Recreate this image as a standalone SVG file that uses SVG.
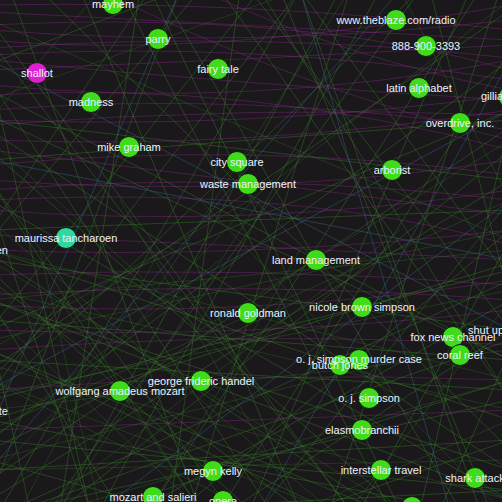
<svg xmlns="http://www.w3.org/2000/svg" width="502" height="502" viewBox="0 0 502 502">
<style>
.g{stroke:#3f8f30;stroke-opacity:.36;stroke-width:1;fill:none}
.h{stroke:#3a8a2c;stroke-opacity:.28;stroke-width:1;fill:none}
.m{stroke:#9a2c9a;stroke-opacity:.34;stroke-width:1;fill:none}
.b{stroke:#3d7396;stroke-opacity:.4;stroke-width:1;fill:none}
.nd{fill:#40dc1c;stroke:#10200a;stroke-width:1}
.mg{fill:#e020d0}
.tl{fill:#2ed8a0}
text{font-family:"Liberation Sans",Arial,sans-serif;font-size:11px;fill:#eef3ff;text-anchor:middle}
.st{text-anchor:start}
.en{text-anchor:end}
</style>
<rect width="502" height="502" fill="#1a181a"/>
<g id="connectors">
<path class="m" d="M-10,30 Q250,50 510,20"/>
<path class="m" d="M-10,55 Q250,40 510,80"/>
<path class="m" d="M-10,110 Q250,90 510,130"/>
<path class="m" d="M-10,140 Q250,150 510,110"/>
<path class="m" d="M-10,190 Q250,170 510,200"/>
<path class="m" d="M-10,210 Q250,230 510,190"/>
<path class="m" d="M-10,85 Q250,110 510,60"/>
<path class="m" d="M-10,250 Q250,260 510,230"/>
<path class="m" d="M-10,12 Q250,25 510,40"/>
<path class="m" d="M-10,165 Q250,140 510,175"/>
<path class="m" d="M-10,295 Q250,280 510,300"/>
<path class="m" d="M-10,120 Q250,130 510,95"/>
<path class="m" d="M-10,70 Q250,60 510,45"/>
<path class="m" d="M-10,330 Q250,340 510,310"/>
<path class="m" d="M-10,275 Q250,265 510,285"/>
<path class="m" d="M-10,95 Q250,80 510,150"/>
<path class="m" d="M100,-10 Q300,90 510,140"/>
<path class="m" d="M-10,40 Q200,60 510,5"/>
<path class="m" d="M-10,235 Q250,245 510,260"/>
<path class="m" d="M-10,430 Q250,420 510,410"/>
<path class="m" d="M-10,350 Q250,330 510,345"/>
<path class="m" d="M-10,180 Q250,200 510,160"/>
<path class="m" d="M-10,125 Q250,105 510,115"/>
<path class="m" d="M-10,25 Q300,10 510,70"/>
<path class="m" d="M-10,60 Q250,85 510,100"/>
<path class="m" d="M-10,305 Q250,320 510,280"/>
<path class="m" d="M200,-10 Q350,60 510,90"/>
<path class="m" d="M-10,150 Q200,175 510,215"/>
<path class="m" d="M-10,200 Q300,185 510,245"/>
<path class="m" d="M-10,5 Q250,0 510,30"/>
<path class="m" d="M-10,390 Q250,370 510,380"/>
<path class="m" d="M-10,48 Q260,30 510,58"/>
<path class="g" d="M-10,480 L520,120"/>
<path class="g" d="M-10,420 L520,260"/>
<path class="g" d="M0,510 L300,-10"/>
<path class="g" d="M50,510 L420,-10"/>
<path class="g" d="M120,510 L-10,300"/>
<path class="g" d="M200,510 L-10,180"/>
<path class="g" d="M260,510 L510,200"/>
<path class="g" d="M330,510 L-10,350"/>
<path class="g" d="M-10,300 L510,470"/>
<path class="g" d="M-10,360 L510,390"/>
<path class="g" d="M80,-10 L300,510"/>
<path class="g" d="M160,-10 L460,510"/>
<path class="g" d="M10,-10 L200,510"/>
<path class="g" d="M-10,200 L510,500"/>
<path class="g" d="M-10,150 L400,510"/>
<path class="g" d="M380,-10 L100,510"/>
<path class="g" d="M470,-10 L250,510"/>
<path class="g" d="M510,60 L-10,440"/>
<path class="g" d="M510,150 L60,510"/>
<path class="g" d="M510,300 L140,510"/>
<path class="g" d="M510,420 L-10,250"/>
<path class="g" d="M-10,260 L510,330"/>
<path class="g" d="M-10,470 L510,440"/>
<path class="g" d="M230,510 L510,330"/>
<path class="g" d="M0,380 L300,-10"/>
<path class="g" d="M-10,90 L510,360"/>
<path class="g" d="M-10,40 L350,510"/>
<path class="g" d="M300,-10 L510,280"/>
<path class="g" d="M420,510 L510,120"/>
<path class="g" d="M10,510 L510,280"/>
<path class="g" d="M-10,330 L260,-10"/>
<path class="g" d="M150,510 L480,-10"/>
<path class="g" d="M90,510 L-10,200"/>
<path class="g" d="M380,510 L0,260"/>
<path class="g" d="M460,510 L-10,420"/>
<path class="g" d="M510,470 L-10,130"/>
<path class="g" d="M200,-10 L-10,240"/>
<path class="g" d="M260,-10 L510,400"/>
<path class="g" d="M-10,520 L510,340"/>
<path class="g" d="M340,-10 L60,510"/>
<path class="g" d="M-10,230 L510,210"/>
<path class="g" d="M510,230 L180,510"/>
<path class="g" d="M40,-10 L510,450"/>
<path class="g" d="M510,360 L0,120"/>
<path class="g" d="M120,-10 L390,510"/>
<path class="g" d="M-10,400 L420,-10"/>
<path class="g" d="M270,510 L-10,80"/>
<path class="g" d="M360,510 L510,240"/>
<path class="g" d="M-10,180 L230,510"/>
<path class="g" d="M510,500 L-10,300"/>
<path class="g" d="M60,510 L140,-10"/>
<path class="g" d="M480,510 L300,-10"/>
<path class="g" d="M510,10 L-10,370"/>
<path class="g" d="M170,510 L-10,460"/>
<path class="g" d="M-10,440 L510,490"/>
<path class="g" d="M310,510 L510,440"/>
<path class="g" d="M-10,120 L510,180"/>
<path class="g" d="M430,-10 L510,300"/>
<path class="g" d="M0,60 L180,-10"/>
<path class="g" d="M240,-10 L170,510"/>
<path class="g" d="M510,180 L-10,500"/>
<path class="g" d="M-10,350 L380,510"/>
<path class="g" d="M100,510 L510,380"/>
<path class="g" d="M510,270 L-10,400"/>
<path class="g" d="M400,510 L150,-10"/>
<path class="g" d="M-10,280 L300,510"/>
<path class="g" d="M220,510 L510,50"/>
<path class="g" d="M-10,70 L90,510"/>
<path class="g" d="M510,330 L250,-10"/>
<path class="g" d="M20,510 L510,400"/>
<path class="g" d="M500,-10 L330,510"/>
<path class="g" d="M-10,500 L180,-10"/>
<path class="g" d="M280,-10 L490,510"/>
<path class="g" d="M510,110 L-10,330"/>
<path class="g" d="M130,510 L510,490"/>
<path class="g" d="M510,400 L220,-10"/>
<path class="g" d="M-10,160 L510,120"/>
<path class="g" d="M350,510 L-10,20"/>
<path class="g" d="M440,510 L510,350"/>
<path class="g" d="M-10,230 L150,-10"/>
<path class="g" d="M-10,270 L250,510"/>
<path class="g" d="M30,510 L-10,330"/>
<path class="g" d="M-10,450 L300,300"/>
<path class="g" d="M70,300 L-10,380"/>
<path class="g" d="M-10,320 L510,360"/>
<path class="g" d="M190,510 L350,-10"/>
<path class="h" d="M-10,260 L400,510"/>
<path class="h" d="M-10,310 L200,510"/>
<path class="h" d="M-10,380 L330,510"/>
<path class="h" d="M-10,430 L510,200"/>
<path class="h" d="M60,510 L260,200"/>
<path class="h" d="M-10,340 L510,230"/>
<path class="h" d="M100,510 L40,250"/>
<path class="h" d="M-10,290 L510,410"/>
<path class="h" d="M-10,480 L300,150"/>
<path class="h" d="M150,510 L300,250"/>
<path class="h" d="M-10,250 L510,380"/>
<path class="h" d="M-10,395 L510,290"/>
<path class="h" d="M250,510 L-10,380"/>
<path class="h" d="M20,510 L160,250"/>
<path class="h" d="M-10,365 L510,500"/>
<path class="h" d="M510,460 L-10,470"/>
<path class="h" d="M-10,410 L510,350"/>
<path class="h" d="M300,510 L120,200"/>
<path class="h" d="M500,510 L200,200"/>
<path class="h" d="M-10,220 L330,510"/>
<path class="h" d="M-10,440 L220,260"/>
<path class="h" d="M510,380 L60,510"/>
<path class="h" d="M-10,300 L510,250"/>
<path class="h" d="M40,510 L400,230"/>
<path class="h" d="M-10,350 L250,200"/>
<path class="h" d="M350,510 L510,300"/>
<path class="h" d="M200,510 L60,300"/>
<path class="h" d="M-10,460 L400,360"/>
<path class="h" d="M510,420 L300,510"/>
<path class="h" d="M-10,100 L300,-10"/>
<path class="h" d="M510,0 L250,200"/>
<path class="h" d="M-10,140 L200,330"/>
<path class="h" d="M100,-10 L-10,120"/>
<path class="h" d="M400,-10 L510,200"/>
<path class="h" d="M510,140 L200,330"/>
<path class="h" d="M350,-10 L150,300"/>
<path class="h" d="M-10,20 L510,240"/>
<path class="b" d="M-10,390 L510,110"/>
<path class="b" d="M-10,60 L510,330"/>
<path class="b" d="M300,-10 L450,510"/>
<path class="b" d="M-10,470 L400,-10"/>
<path class="b" d="M510,200 L100,510"/>
<path class="b" d="M-10,160 L510,260"/>
<path class="b" d="M180,-10 L-10,430"/>
<path class="b" d="M510,60 L260,510"/>
</g>
<g id="nodes">
<g id="node-mayhem"><circle class="nd" cx="113" cy="4" r="10.5"/></g>
<g id="node-parry"><circle class="nd" cx="158" cy="39" r="10.5"/></g>
<g id="node-shallot"><circle class="nd mg" cx="37" cy="73" r="10.5"/></g>
<g id="node-fairy-tale"><circle class="nd" cx="218" cy="69" r="10.5"/></g>
<g id="node-madness"><circle class="nd" cx="91" cy="102" r="10.5"/></g>
<g id="node-mike-graham"><circle class="nd" cx="129" cy="147" r="10.5"/></g>
<g id="node-city-square"><circle class="nd" cx="237" cy="162" r="10.5"/></g>
<g id="node-waste-management"><circle class="nd" cx="248" cy="184" r="10.5"/></g>
<g id="node-theblaze"><circle class="nd" cx="396" cy="20" r="10.5"/></g>
<g id="node-888"><circle class="nd" cx="426" cy="46" r="10.5"/></g>
<g id="node-latin-alphabet"><circle class="nd" cx="419" cy="88" r="10.5"/></g>
<g id="node-gillia"><circle class="nd" cx="509" cy="97" r="10.5"/></g>
<g id="node-overdrive"><circle class="nd" cx="460" cy="123" r="10.5"/></g>
<g id="node-arborist"><circle class="nd" cx="392" cy="170" r="10.5"/></g>
<g id="node-maurissa"><circle class="nd tl" cx="66" cy="238" r="10.5"/></g>
<g id="node-land-management"><circle class="nd" cx="316" cy="260" r="10.5"/></g>
<g id="node-ronald-goldman"><circle class="nd" cx="248" cy="313" r="10.5"/></g>
<g id="node-nicole"><circle class="nd" cx="362" cy="307" r="10.5"/></g>
<g id="node-fox"><circle class="nd" cx="453" cy="337" r="10.5"/></g>
<g id="node-coral-reef"><circle class="nd" cx="460" cy="355" r="10.5"/></g>
<g id="node-oj-case"><circle class="nd" cx="359" cy="360" r="10.5"/></g>
<g id="node-butch-jones"><circle class="nd" cx="340" cy="365" r="10.5"/></g>
<g id="node-oj"><circle class="nd" cx="369" cy="398" r="10.5"/></g>
<g id="node-elasmobranchii"><circle class="nd" cx="362" cy="430" r="10.5"/></g>
<g id="node-interstellar"><circle class="nd" cx="381" cy="470" r="10.5"/></g>
<g id="node-shark-attack"><circle class="nd" cx="475" cy="478" r="10.5"/></g>
<g id="node-bottom"><circle class="nd" cx="412" cy="507" r="10.5"/></g>
<g id="node-handel"><circle class="nd" cx="201" cy="381" r="10.5"/></g>
<g id="node-mozart"><circle class="nd" cx="120" cy="391" r="10.5"/></g>
<g id="node-megyn-kelly"><circle class="nd" cx="213" cy="471" r="10.5"/></g>
<g id="node-mozart-salieri"><circle class="nd" cx="153" cy="497" r="10.5"/></g>
<g id="node-opera"><circle class="nd" cx="223" cy="501" r="10.5"/></g>
</g>
<g id="labels">
<text x="113" y="8">mayhem</text>
<text x="158" y="43">parry</text>
<text x="37" y="77">shallot</text>
<text x="218" y="73">fairy tale</text>
<text x="91" y="106">madness</text>
<text x="129" y="151">mike graham</text>
<text x="237" y="166">city square</text>
<text x="248" y="188">waste management</text>
<text x="396" y="24">www.theblaze.com/radio</text>
<text x="426" y="50">888-900-3393</text>
<text x="419" y="92">latin alphabet</text>
<text class="st" x="481" y="100">gillian</text>
<text x="460" y="127">overdrive, inc.</text>
<text x="392" y="174">arborist</text>
<text x="66" y="242">maurissa tancharoen</text>
<text class="en" x="8" y="254">en</text>
<text x="316" y="264">land management</text>
<text x="248" y="317">ronald goldman</text>
<text x="362" y="311">nicole brown simpson</text>
<text class="st" x="468" y="334">shut up</text>
<text x="453" y="341">fox news channel</text>
<text x="460" y="359">coral reef</text>
<text x="359" y="363">o. j. simpson murder case</text>
<text x="340" y="369">butch jones</text>
<text x="369" y="402">o. j. simpson</text>
<text x="362" y="434">elasmobranchii</text>
<text x="381" y="474">interstellar travel</text>
<text x="475" y="482">shark attack</text>
<text x="201" y="385">george frideric handel</text>
<text x="120" y="395">wolfgang amadeus mozart</text>
<text class="en" x="8" y="415">te</text>
<text x="213" y="475">megyn kelly</text>
<text x="153" y="501">mozart and salieri</text>
<text x="223" y="505">opera</text>
</g>
</svg>
